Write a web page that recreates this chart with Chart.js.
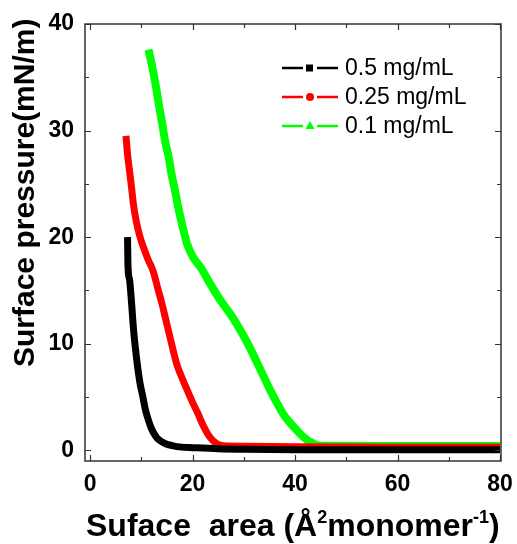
<!DOCTYPE html>
<html>
<head>
<meta charset="utf-8">
<script src="https://cdn.jsdelivr.net/npm/chart.js@4.4.0/dist/chart.umd.min.js"></script>
<style>
  html, body { margin: 0; padding: 0; background: #fff; }
  #wrap { width: 517px; height: 544px; }
</style>
</head>
<body>
<div id="wrap"><canvas id="isoChart"></canvas></div>
<script>
// series labels / colours
const labels = ['0.5 mg/mL', '0.25 mg/mL', '0.1 mg/mL'];
const colors = ['#000000', '#ff0000', '#00ff00'];
const markers = ['rect', 'circle', 'triangle'];

// x: surface area, y: surface pressure
const blackX = [7.3, 7.4, 7.7, 8.0, 8.5, 9.2, 9.7, 10.3, 10.8, 11.4, 12.0, 12.7, 13.5, 14.6, 16, 17.9, 20, 25, 30, 40, 60, 80];
const blackY = [20, 17.2, 16, 14.4, 11.2, 8.1, 6.4, 5.0, 3.8, 2.8, 2.0, 1.4, 0.95, 0.65, 0.45, 0.3, 0.25, 0.15, 0.1, 0.06, 0.05, 0.05];

const redX = [7.0, 7.3, 7.7, 8.1, 8.45, 9.0, 9.75, 10.6, 11.4, 12.0, 12.5, 13.2, 14.0, 14.7, 15.3, 16.1, 16.9, 18.1, 19.0, 20.0, 21.0, 22.0, 23.0, 24.0, 25.0, 26, 30, 40, 60, 80];
const redY = [29.5, 27.8, 26.2, 24.6, 23.1, 21.5, 20.0, 18.8, 17.8, 17.2, 16.5, 15.2, 13.8, 12.4, 11.2, 9.6, 8.1, 6.6, 5.6, 4.5, 3.5, 2.4, 1.5, 0.9, 0.55, 0.42, 0.38, 0.33, 0.3, 0.3];

const greenX = [11.4, 11.9, 12.4, 13.0, 13.5, 14.1, 14.6, 15.3, 15.9, 16.6, 17.2, 17.9, 18.9, 20.0, 21.8, 23.1, 25.4, 27.5, 29.3, 31, 33.2, 35.1, 36.4, 37.7, 39, 40.3, 41.3, 42.3, 43.3, 44.3, 46, 55, 70, 80];
const greenY = [37.6, 36.5, 35.3, 33.7, 32.2, 30.6, 29.1, 27.6, 25.9, 24.3, 22.8, 21.3, 19.4, 18.2, 17.0, 15.9, 14.1, 12.7, 11.3, 9.8, 7.6, 5.7, 4.5, 3.4, 2.6, 1.9, 1.4, 1.0, 0.7, 0.5, 0.42, 0.4, 0.4, 0.4];

// ticks
const xTicks = [0, 20, 40, 60, 80];
const xMinor = [10, 30, 50, 70];
const yTicks = [0, 10, 20, 30, 40];
const yMinor = [5, 15, 25, 35];

const toPts = (xs, ys) => xs.map((x, i) => ({ x: x, y: ys[i] }));
const series = [toPts(blackX, blackY), toPts(redX, redY), toPts(greenX, greenY)];

const FONT = 'Arial, "Liberation Sans", sans-serif';

// frame, inward ticks, axis titles and legend
const framePlugin = {
  id: 'frame',
  afterDraw(chart) {
    const ctx = chart.ctx;
    const a = chart.chartArea;
    const xs = chart.scales.x, ys = chart.scales.y;
    ctx.save();
    ctx.strokeStyle = '#333';
    ctx.lineWidth = 1.5;
    ctx.strokeRect(a.left, a.top, a.right - a.left, a.bottom - a.top);
    ctx.lineWidth = 1.2;
    ctx.beginPath();
    const tickX = (v, len) => {
      const p = Math.round(xs.getPixelForValue(v)) + 0.5;
      ctx.moveTo(p, a.bottom); ctx.lineTo(p, a.bottom - len);
      ctx.moveTo(p, a.top); ctx.lineTo(p, a.top + len);
    };
    const tickY = (v, len) => {
      const p = Math.round(ys.getPixelForValue(v)) + 0.5;
      ctx.moveTo(a.left, p); ctx.lineTo(a.left + len, p);
      ctx.moveTo(a.right, p); ctx.lineTo(a.right - len, p);
    };
    xTicks.forEach(v => tickX(v, 6));
    xMinor.forEach(v => tickX(v, 4));
    yTicks.forEach(v => tickY(v, 6));
    yMinor.forEach(v => tickY(v, 4));
    ctx.stroke();

    // y title
    ctx.fillStyle = '#000';
    ctx.save();
    ctx.translate(34, 367);
    ctx.rotate(-Math.PI / 2);
    ctx.font = 'bold 30px ' + FONT;
    ctx.textAlign = 'left';
    ctx.textBaseline = 'alphabetic';
    ctx.fillText('Surface pressure(mN/m)', 0, 0);
    ctx.restore();

    // x title with superscripts
    const big = 'bold 32px ' + FONT;
    const small = 'bold 18px ' + FONT;
    const parts = [['Suface  area (\u00C5', big, 0], ['2', small, -13], ['monomer', big, 0], ['-1', small, -13], [')', big, 0]];
    let px = 86;
    ctx.textAlign = 'left';
    ctx.textBaseline = 'alphabetic';
    parts.forEach(([t, f, dy]) => {
      ctx.font = f;
      ctx.fillText(t, px, 536 + dy);
      px += ctx.measureText(t).width;
    });

    // legend: line - marker - line
    ctx.font = '23px ' + FONT;
    ctx.textBaseline = 'middle';
    chart.data.datasets.forEach((ds, i) => {
      const y = 68 + i * 29;
      ctx.strokeStyle = ds.borderColor;
      ctx.fillStyle = ds.borderColor;
      ctx.lineWidth = 2.5;
      ctx.beginPath();
      ctx.moveTo(282, y); ctx.lineTo(303, y);
      ctx.moveTo(317, y); ctx.lineTo(338, y);
      ctx.stroke();
      const m = markers[i];
      ctx.beginPath();
      if (m === 'rect') ctx.rect(306, y - 3.5, 7, 7);
      else if (m === 'circle') ctx.arc(310, y, 4, 0, Math.PI * 2);
      else { ctx.moveTo(310, y - 5); ctx.lineTo(314.5, y + 3); ctx.lineTo(305.5, y + 3); ctx.closePath(); }
      ctx.fill();
      ctx.fillStyle = '#000';
      ctx.fillText(ds.label, 345, y + 1);
    });
    ctx.restore();
  }
};

new Chart(document.getElementById('isoChart'), {
  type: 'scatter',
  data: {
    datasets: series.map((pts, i) => ({
      label: labels[i],
      data: pts,
      showLine: true,
      borderColor: colors[i],
      backgroundColor: colors[i],
      borderWidth: i === 2 ? 8 : 7,
      pointRadius: 0,
      cubicInterpolationMode: 'monotone',
      borderJoinStyle: 'round'
    }))
  },
  options: {
    responsive: true,
    maintainAspectRatio: false,
    animation: false,
    layout: { padding: { top: 24, right: 16, left: 0, bottom: 0 } },
    plugins: { legend: { display: false }, tooltip: { enabled: false } },
    scales: {
      x: {
        type: 'linear',
        min: -1,
        max: 80.2,
        afterBuildTicks: s => { s.ticks = xTicks.map(v => ({ value: v })); },
        afterFit: s => { s.height = 83; s.paddingLeft = 0; s.paddingRight = 0; },
        grid: { display: false, drawTicks: false },
        border: { display: false },
        ticks: {
          padding: 10,
          color: '#000',
          font: { family: FONT, size: 23, weight: 'bold' }
        }
      },
      y: {
        min: -1,
        max: 40,
        afterBuildTicks: s => { s.ticks = yTicks.map(v => ({ value: v })); },
        afterFit: s => { s.width = 85; s.paddingTop = 0; s.paddingBottom = 0; },
        grid: { display: false, drawTicks: false },
        border: { display: false },
        ticks: {
          padding: 11,
          color: '#000',
          font: { family: FONT, size: 23, weight: 'bold' }
        }
      }
    }
  },
  plugins: [framePlugin]
});
</script>
</body>
</html>
